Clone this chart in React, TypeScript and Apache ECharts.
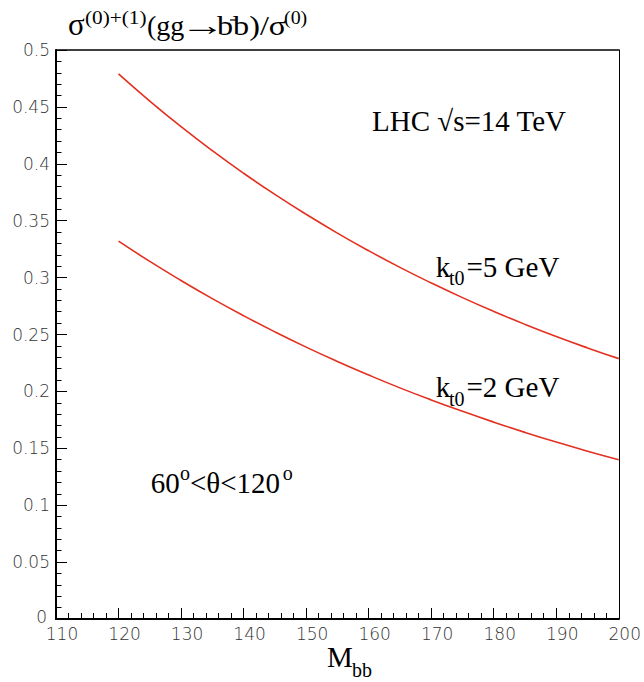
import React, { useEffect, useRef } from "react";
import * as echarts from "echarts";

const massValues = [120, 125, 130, 135, 140, 145, 150, 155, 160, 165, 170, 175, 180, 185, 190, 195, 200];
const ratioKt5 = [0.479, 0.4551, 0.4326, 0.4115, 0.3917, 0.3731, 0.3556, 0.3391, 0.3236, 0.309, 0.2953, 0.2824, 0.2703, 0.2589, 0.2482, 0.2382, 0.2288];
const ratioKt2 = [0.332, 0.3142, 0.2974, 0.2815, 0.2665, 0.2523, 0.2389, 0.2263, 0.2144, 0.2031, 0.1925, 0.1825, 0.173, 0.164, 0.1555, 0.1475, 0.14];

const SERIF = "'Liberation Serif', 'Times New Roman', serif";
const SANS = "'DejaVu Sans', 'Liberation Sans', sans-serif";
const RED = "#e3301f";

function txt(text: string, x: number, baseline: number, size: number, family: string = SERIF, extra: any = {}) {
  return {
    type: "text",
    x,
    y: baseline - 0.34 * size,
    silent: true,
    ...extra,
    style: {
      text,
      fill: "#000",
      fontSize: size,
      fontFamily: family,
      align: "left",
      verticalAlign: "middle",
    },
  };
}

export default function App() {
  const ref = useRef<HTMLDivElement>(null);
  useEffect(() => {
    if (!ref.current) return;
    const chart = echarts.init(ref.current, undefined, { renderer: "svg" });
    const axisLabelStyle = {
      fontSize: 17,
      lineHeight: 13,
      fontFamily: SANS,
      fontWeight: 200,
      color: "#333",
    };
    chart.setOption({
      animation: false,
      backgroundColor: "#fff",
      grid: { left: 56, right: 20, top: 50, bottom: 63 },
      xAxis: [
        {
          type: "value",
          min: 110,
          max: 200,
          interval: 10,
          position: "bottom",
          axisLine: { show: true, onZero: false, lineStyle: { color: "#000", width: 2 } },
          axisTick: { show: true, inside: true, length: 11, lineStyle: { color: "#000", width: 1 } },
          minorTick: { show: true, splitNumber: 5, length: 6, lineStyle: { color: "#000", width: 1 } },
          axisLabel: { ...axisLabelStyle, margin: 8, padding: [0, 0, 0, 12] },
          splitLine: { show: false },
          minorSplitLine: { show: false },
        },
        {
          type: "value",
          min: 110,
          max: 200,
          position: "top",
          axisLine: { show: true, onZero: false, lineStyle: { color: "#000", width: 1.5 } },
          axisTick: { show: false },
          axisLabel: { show: false },
          splitLine: { show: false },
        },
      ],
      yAxis: [
        {
          type: "value",
          min: 0,
          max: 0.5,
          interval: 0.05,
          position: "left",
          axisLine: { show: true, onZero: false, lineStyle: { color: "#000", width: 2 } },
          axisTick: { show: true, inside: true, length: 11, lineStyle: { color: "#000", width: 1 } },
          minorTick: { show: true, splitNumber: 5, length: 5.5, lineStyle: { color: "#000", width: 1 } },
          axisLabel: {
            ...axisLabelStyle,
            margin: 6,
            formatter: (v: number) => (v === 0 ? "{z|0}" : String(v)),
            rich: {
              z: { ...axisLabelStyle, padding: [0, 3, 5, 0] },
            },
          },
          splitLine: { show: false },
          minorSplitLine: { show: false },
        },
        {
          type: "value",
          min: 0,
          max: 0.5,
          position: "right",
          axisLine: { show: true, onZero: false, lineStyle: { color: "#000", width: 1 } },
          axisTick: { show: false },
          axisLabel: { show: false },
          splitLine: { show: false },
        },
      ],
      series: [
        {
          name: "kt0=5 GeV",
          type: "line",
          xAxisIndex: 0,
          yAxisIndex: 0,
          smooth: 0.5,
          showSymbol: false,
          lineStyle: { color: RED, width: 1.6 },
          data: massValues.map((m, i) => [m, ratioKt5[i]]),
        },
        {
          name: "kt0=2 GeV",
          type: "line",
          xAxisIndex: 0,
          yAxisIndex: 0,
          smooth: 0.5,
          showSymbol: false,
          lineStyle: { color: RED, width: 1.6 },
          data: massValues.map((m, i) => [m, ratioKt2[i]]),
        },
      ],
      graphic: [
        // y-axis title
        txt("σ", 68, 35, 31),
        txt("(0)+(1)", 85, 24, 19, SERIF, { scaleX: 1.12 }),
        txt("(gg", 147, 35, 28),
        txt("→", 180, 35, 28, SERIF, { scaleX: 1.6 }),
        txt("bb)/σ", 217, 35, 28, SERIF, { scaleX: 1.15 }),
        {
          type: "line",
          silent: true,
          shape: { x1: 230, y1: 20, x2: 236, y2: 20 },
          style: { stroke: "#000", lineWidth: 1.2 },
        },
        txt("(0)", 284, 24, 19, SERIF, { scaleX: 1.05 }),
        // x-axis title
        txt("M", 327, 666.5, 29),
        txt("bb", 352, 677, 20),
        // annotations
        txt("LHC √s=14 TeV", 372, 130.7, 29),
        txt("k", 435.7, 276.7, 29),
        txt("t0", 449, 285, 20),
        txt("=5 GeV", 466.5, 276.7, 29),
        txt("k", 435.7, 397.3, 29),
        txt("t0", 449, 405.6, 20),
        txt("=2 GeV", 466.5, 397.3, 29),
        txt("60", 150.7, 493.3, 29),
        txt("o", 180, 480, 20),
        txt("<θ<120", 190, 493.3, 29),
        txt("o", 282.7, 480, 20),
      ],
    });
    return () => chart.dispose();
  }, []);
  return (
    <div
      ref={ref}
      style={{ position: "fixed", left: 0, top: 0, width: 644, height: 682, background: "#fff" }}
    />
  );
}
